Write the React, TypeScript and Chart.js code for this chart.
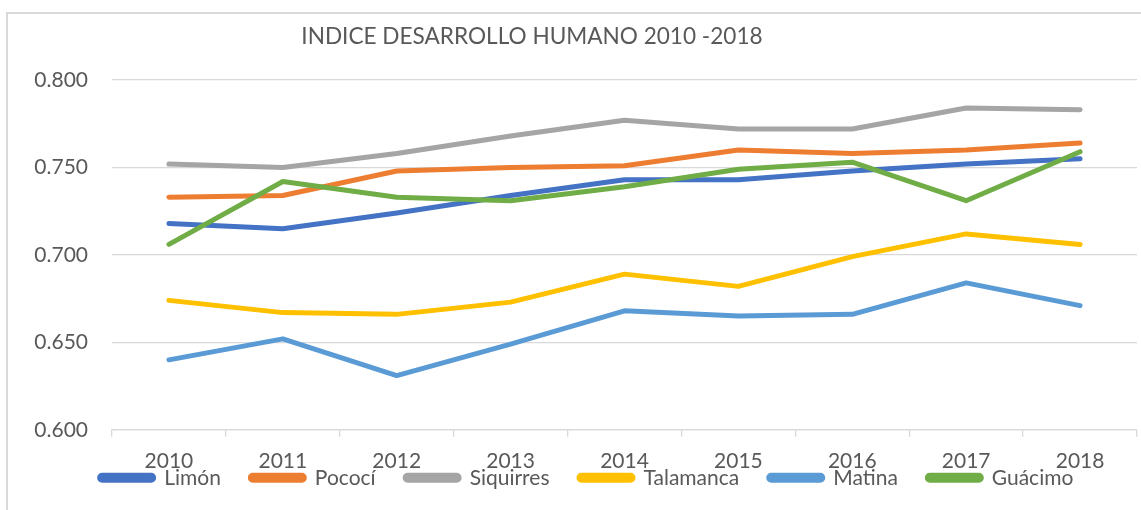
import React, { useEffect, useRef } from "react";
import { Chart, registerables } from "chart.js";

Chart.register(...registerables);

const years = ["2010", "2011", "2012", "2013", "2014", "2015", "2016", "2017", "2018"];
const limon = [0.718, 0.715, 0.724, 0.734, 0.743, 0.743, 0.748, 0.752, 0.755];
const pococi = [0.733, 0.734, 0.748, 0.750, 0.751, 0.760, 0.758, 0.760, 0.764];
const siquirres = [0.752, 0.750, 0.758, 0.768, 0.777, 0.772, 0.772, 0.784, 0.783];
const talamanca = [0.674, 0.667, 0.666, 0.673, 0.689, 0.682, 0.699, 0.712, 0.706];
const matina = [0.640, 0.652, 0.631, 0.649, 0.668, 0.665, 0.666, 0.684, 0.671];
const guacimo = [0.706, 0.742, 0.733, 0.731, 0.739, 0.749, 0.753, 0.731, 0.759];

const seriesNames = ["Limón", "Pococí", "Siquirres", "Talamanca", "Matina", "Guácimo"];
const seriesData = [limon, pococi, siquirres, talamanca, matina, guacimo];
const seriesColors = ["#4472C4", "#ED7D31", "#A5A5A5", "#FFC000", "#5B9BD5", "#70AD47"];

const titleText = "INDICE DESARROLLO HUMANO 2010 -2018";
const FONT = "Lato, 'Noto Sans', sans-serif";
const TEXT_COLOR = "#595959";
const GRID_COLOR = "#d9d9d9";

const LEGEND_PAD = 29.5;
const LEGEND_FONT = 21;

const legendShift = {
  id: "legendShift",
  afterLayout(chart: any) {
    const lg = chart.legend;
    if (lg && chart.chartArea) {
      lg.top = chart.chartArea.bottom + 48 - LEGEND_PAD - LEGEND_FONT / 2;
      lg.bottom = chart.height;
      lg.left += 18;
      lg.right += 18;
    }
  },
};

export default function App() {
  const canvasRef = useRef<HTMLCanvasElement | null>(null);

  useEffect(() => {
    const canvas = canvasRef.current;
    if (!canvas) return;
    const n = seriesNames.length;
    const chart = new Chart(canvas, {
      type: "line",
      data: {
        labels: years,
        datasets: seriesNames.map((name, i) => ({
          label: name,
          data: seriesData[i],
          borderColor: seriesColors[i],
          backgroundColor: seriesColors[i],
          borderWidth: 5,
          borderCapStyle: "round",
          borderJoinStyle: "round",
          pointRadius: 0,
          pointHoverRadius: 0,
          tension: 0,
          fill: false,
          order: n - i,
        })),
      },
      options: {
        responsive: false,
        animation: false,
        devicePixelRatio: 1,
        layout: { padding: { top: 80, right: 4, bottom: 4, left: 0 } },
        plugins: {
          title: { display: false },
          tooltip: { enabled: false },
          legend: {
            position: "bottom",
            maxHeight: 20,
            labels: {
              sort: (a: any, b: any) => a.datasetIndex - b.datasetIndex,
              font: { family: FONT, size: LEGEND_FONT },
              color: TEXT_COLOR,
              boxWidth: 54,
              boxHeight: 5,
              padding: LEGEND_PAD,
              useBorderRadius: true,
              borderRadius: 2.5,
            },
          },
        },
        scales: {
          x: {
            type: "category",
            offset: true,
            grid: {
              display: true,
              drawOnChartArea: false,
              drawTicks: true,
              tickLength: 7,
              color: GRID_COLOR,
              lineWidth: 1.3,
              offset: true,
            },
            border: { display: true, color: GRID_COLOR, width: 1.3 },
            ticks: {
              font: { family: FONT, size: 21 },
              color: TEXT_COLOR,
              padding: 12,
              maxRotation: 0,
              autoSkip: false,
            },
          },
          y: {
            min: 0.6,
            max: 0.8,
            grid: { color: GRID_COLOR, lineWidth: 1.3, drawTicks: false },
            border: { display: false },
            ticks: {
              stepSize: 0.05,
              font: { family: FONT, size: 21 },
              color: TEXT_COLOR,
              padding: 24,
              callback: (v: any) => Number(v).toFixed(3),
            },
            afterFit: (scale: any) => {
              scale.width = 112;
            },
          },
        },
      },
      plugins: [legendShift],
    });
    return () => chart.destroy();
  }, []);

  return (
    <div
      style={{
        position: "fixed",
        left: 0,
        top: 0,
        width: 1141,
        height: 510,
        overflow: "hidden",
        background: "#fff",
      }}
    >
      <div
        style={{
          position: "absolute",
          left: 6,
          top: 12,
          width: 1200,
          height: 600,
          boxSizing: "border-box",
          border: `2px solid ${GRID_COLOR}`,
        }}
      />
      <canvas
        ref={canvasRef}
        width={1141}
        height={510}
        style={{ position: "absolute", left: 0, top: 0, width: 1141, height: 510 }}
      />
      <div
        style={{
          position: "absolute",
          left: 532,
          top: 22,
          transform: "translateX(-50%)",
          whiteSpace: "nowrap",
          fontFamily: FONT,
          fontSize: 22.6,
          lineHeight: "28px",
          color: TEXT_COLOR,
        }}
      >
        {titleText}
      </div>
    </div>
  );
}
